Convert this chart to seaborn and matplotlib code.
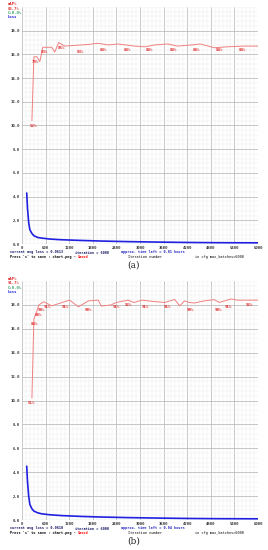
import matplotlib
matplotlib.use("Agg")
import matplotlib.pyplot as plt
import seaborn as sns
from matplotlib.ticker import MultipleLocator

# ---- data ----
# loss (blue)
loss_iters_a = [120, 140, 170, 200, 250, 300, 400, 500, 700, 1000, 1500, 2000, 2700, 3500, 4200, 5000, 6000]
loss_a = [4.3, 3.0, 1.8, 1.2, 0.9, 0.7, 0.55, 0.5, 0.42, 0.36, 0.3, 0.25, 0.2, 0.16, 0.13, 0.11, 0.1]
loss_iters_b = [120, 140, 170, 200, 250, 300, 400, 500, 700, 1000, 1500, 2000, 2700, 3500, 4200, 5000, 6000]
loss_b = [4.5, 3.2, 2.0, 1.3, 0.95, 0.75, 0.6, 0.52, 0.44, 0.37, 0.3, 0.25, 0.2, 0.16, 0.13, 0.11, 0.1]

# mAP % (red)
map_iters_a = [252, 302, 378, 454, 529, 756, 832, 932, 1084, 1336, 1688, 1940, 2192, 2444, 2873,
               3125, 3377, 3704, 3956, 4309, 4536, 4889, 5216, 5645, 6000]
map_a = [52, 79, 79, 77, 83, 83, 81, 85, 83.5, 83.8, 84.2, 84.7, 84.0, 84.4, 83.5,
         83.2, 84.0, 84.4, 83.5, 84.0, 84.4, 82.8, 83.2, 83.5, 83.5]
map_iters_b = [252, 302, 378, 428, 554, 756, 1058, 1210, 1436, 1688, 1940, 2016, 2268, 2394, 2696,
               2848, 3049, 3301, 3629, 3881, 4007, 4133, 4259, 4385, 4637, 4889, 5015, 5317, 5468, 6000]
map_b = [51, 84, 87.5, 90, 91.3, 89.6, 91.2, 92, 89.2, 91.7, 92, 89.5, 90, 91, 92,
         91, 92, 91.5, 91, 92.3, 89.6, 91.7, 91, 90.8, 91.7, 92.2, 91, 92.5, 92, 92]

# labels printed on the mAP line
lab_iters_a = [200, 240, 480, 900, 1380, 1980, 2580, 3150, 3750, 4350, 4930, 5520]
lab_vals_a = [52, 79, 83, 85, 83, 84, 84, 84, 84, 84, 84, 84]
lab_iters_b = [150, 230, 330, 400, 560, 1000, 1600, 2300, 2600, 3050, 3600, 4200, 4900, 5150, 5700]
lab_vals_b = [51, 84, 88, 90, 91, 91, 90, 91, 92, 91, 91, 90, 90, 91, 92]

# contrastive accuracy (green), flat at zero
contr_iters = [0, 6000]
contr_vals = [0, 0]

x_ticks = [0, 600, 1200, 1800, 2400, 3000, 3600, 4200, 4800, 5400, 6000]
y_ticks = [0, 2, 4, 6, 8, 10, 12, 14, 16, 18]

panels = [
    dict(loss_x=loss_iters_a, loss_y=loss_a, map_x=map_iters_a, map_y=map_a,
         lab_x=lab_iters_a, lab_v=lab_vals_a, best="83.7%", avg="0.0613",
         left="0.01", caption="(a)", top=7, bottom=244, head=0),
    dict(loss_x=loss_iters_b, loss_y=loss_b, map_x=map_iters_b, map_y=map_b,
         lab_x=lab_iters_b, lab_v=lab_vals_b, best="91.7%", avg="0.0610",
         left="0.04", caption="(b)", top=281, bottom=520, head=275),
]

sns.set_style("white")
plt.rcParams['font.family'] = ['DejaVu Sans Mono']

W, H = 268, 550
fig = plt.figure(figsize=(W / 100, H / 100), dpi=100)
red = "#e03030"
navy = "#101060"


def put(px, py, s, va="center", **kw):
    # place text by pixel position from the top-left corner
    fig.text(px / W, 1 - py / H, s, va=va, **kw)


for p in panels:
    ax = fig.add_axes([22 / W, 1 - p["bottom"] / H, 236 / W, (p["bottom"] - p["top"]) / H])
    ax.set_xlim(0, 6000)
    ax.set_ylim(0, 20)
    ax.xaxis.set_minor_locator(MultipleLocator(100))
    ax.yaxis.set_minor_locator(MultipleLocator(0.4))
    ax.set_xticks(x_ticks)
    ax.set_yticks(y_ticks)
    ax.set_xticklabels([str(t) for t in x_ticks], fontsize=2.8, fontweight="bold")
    ax.set_yticklabels([f"{t:.1f}" for t in y_ticks], fontsize=2.8, fontweight="bold")
    ax.tick_params(which="both", length=0, pad=1.2, labelcolor="#333333")
    ax.grid(which="minor", color="#ececec", lw=0.35)
    ax.grid(which="major", color="#b8b8b8", lw=0.55)
    ax.set_axisbelow(True)
    for s in ax.spines.values():
        s.set_visible(False)

    sns.lineplot(x=contr_iters, y=contr_vals, ax=ax, color="#40c080", lw=0.8, sort=False)
    sns.lineplot(x=p["loss_x"], y=p["loss_y"], ax=ax, color="#2020e0", lw=1.2, sort=False)
    # mAP drawn on the same 0-20 scale (100% = top)
    sns.lineplot(x=p["map_x"], y=[v / 5 for v in p["map_y"]], ax=ax, color="#f08080", lw=0.7, sort=False)
    for xi, v in zip(p["lab_x"], p["lab_v"]):
        ax.text(xi, v / 5 - 0.25, f"{v}%", fontsize=3.0, color=red, fontweight="bold",
                ha="left", va="top")

    # legend-like header
    h = p["head"]
    put(8, h + 4, "mAP%", fontsize=2.8, color=red, fontweight="bold")
    put(8, h + 8.5, p["best"], fontsize=2.8, color=red, fontweight="bold")
    put(8, h + 13, "C:0.0%", fontsize=2.8, color="#30a060", fontweight="bold")
    put(8, h + 17, "Loss", fontsize=2.8, color="#2020e0", fontweight="bold")

    # status lines under the chart
    b = p["bottom"]
    fs = 2.5
    put(10, b + 9.5, f"current avg loss = {p['avg']}", va="baseline", fontsize=fs, color=navy, fontweight="bold")
    put(75, b + 9.5, "iteration = 6000", va="baseline", fontsize=fs, color=navy, fontweight="bold")
    put(121, b + 9.5, f"approx. time left = {p['left']} hours", va="baseline", fontsize=fs,
        color="#2020c0", fontweight="bold")
    put(10, b + 14, "Press 's' to save : chart.png -", va="baseline", fontsize=fs, color="black", fontweight="bold")
    put(78, b + 14, "Saved", va="baseline", fontsize=fs, color="red", fontweight="bold")
    put(128, b + 14, "Iteration number", va="baseline", fontsize=fs, color="black")
    put(195, b + 14, "in cfg max_batches=6000", va="baseline", fontsize=fs, color="black")
    put(134, b + 21, p["caption"], fontsize=6.5, ha="center", family="DejaVu Serif")

fig.savefig("out.png", dpi=100, facecolor="white")
